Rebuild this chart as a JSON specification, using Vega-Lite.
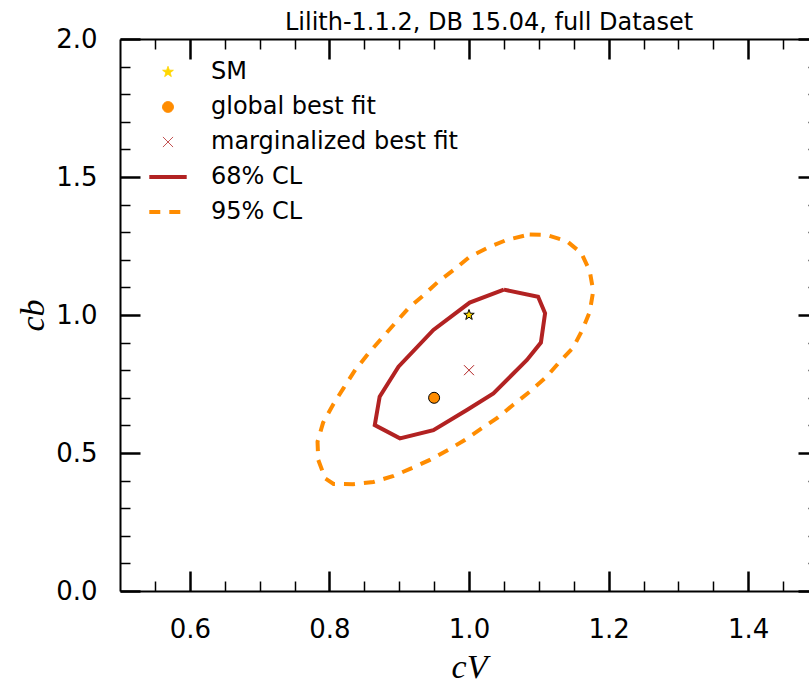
{
  "$schema": "https://vega.github.io/schema/vega-lite/v6.json",
  "autosize": {"type": "none"},
  "padding": {"left": 120, "top": 39, "right": 0, "bottom": 100},
  "width": 698,
  "height": 552,
  "title": {"text": "Lilith-1.1.2, DB 15.04, full Dataset", "font": "DejaVu Sans", "fontSize": 24, "fontWeight": "normal", "color": "black", "anchor": "middle", "dx": 20, "dy": 13, "offset": 4},
  "config": {"view": {"stroke": null}, "axis": {"grid": false, "domainColor": "black", "tickColor": "black", "labelColor": "black", "titleColor": "black"}},
  "datasets": {
    "c95": [
      {"series": "95% CL", "i": 1, "x": 1.087, "y": 1.292},
      {"series": "95% CL", "i": 2, "x": 1.111, "y": 1.29},
      {"series": "95% CL", "i": 3, "x": 1.14, "y": 1.268},
      {"series": "95% CL", "i": 4, "x": 1.161, "y": 1.224},
      {"series": "95% CL", "i": 5, "x": 1.173, "y": 1.159},
      {"series": "95% CL", "i": 6, "x": 1.178, "y": 1.087},
      {"series": "95% CL", "i": 7, "x": 1.173, "y": 1.012},
      {"series": "95% CL", "i": 8, "x": 1.163, "y": 0.949},
      {"series": "95% CL", "i": 9, "x": 1.149, "y": 0.881},
      {"series": "95% CL", "i": 10, "x": 1.13, "y": 0.831},
      {"series": "95% CL", "i": 11, "x": 1.111, "y": 0.776},
      {"series": "95% CL", "i": 12, "x": 1.087, "y": 0.722},
      {"series": "95% CL", "i": 13, "x": 1.063, "y": 0.674},
      {"series": "95% CL", "i": 14, "x": 1.04, "y": 0.626},
      {"series": "95% CL", "i": 15, "x": 1.018, "y": 0.589},
      {"series": "95% CL", "i": 16, "x": 0.994, "y": 0.547},
      {"series": "95% CL", "i": 17, "x": 0.97, "y": 0.511},
      {"series": "95% CL", "i": 18, "x": 0.944, "y": 0.475},
      {"series": "95% CL", "i": 19, "x": 0.918, "y": 0.445},
      {"series": "95% CL", "i": 20, "x": 0.892, "y": 0.417},
      {"series": "95% CL", "i": 21, "x": 0.863, "y": 0.395},
      {"series": "95% CL", "i": 22, "x": 0.834, "y": 0.387},
      {"series": "95% CL", "i": 23, "x": 0.806, "y": 0.388},
      {"series": "95% CL", "i": 24, "x": 0.794, "y": 0.408},
      {"series": "95% CL", "i": 25, "x": 0.784, "y": 0.475},
      {"series": "95% CL", "i": 26, "x": 0.783, "y": 0.541},
      {"series": "95% CL", "i": 27, "x": 0.791, "y": 0.61},
      {"series": "95% CL", "i": 28, "x": 0.805, "y": 0.674},
      {"series": "95% CL", "i": 29, "x": 0.82, "y": 0.734},
      {"series": "95% CL", "i": 30, "x": 0.837, "y": 0.801},
      {"series": "95% CL", "i": 31, "x": 0.856, "y": 0.861},
      {"series": "95% CL", "i": 32, "x": 0.875, "y": 0.916},
      {"series": "95% CL", "i": 33, "x": 0.894, "y": 0.97},
      {"series": "95% CL", "i": 34, "x": 0.913, "y": 1.024},
      {"series": "95% CL", "i": 35, "x": 0.935, "y": 1.072},
      {"series": "95% CL", "i": 36, "x": 0.956, "y": 1.121},
      {"series": "95% CL", "i": 37, "x": 0.978, "y": 1.163},
      {"series": "95% CL", "i": 38, "x": 1.001, "y": 1.211},
      {"series": "95% CL", "i": 39, "x": 1.028, "y": 1.245},
      {"series": "95% CL", "i": 40, "x": 1.054, "y": 1.272},
      {"series": "95% CL", "i": 41, "x": 1.087, "y": 1.292}
    ],
    "c68": [
      {"series": "68% CL", "i": 1, "x": 1.05, "y": 1.092},
      {"series": "68% CL", "i": 2, "x": 1.099, "y": 1.066},
      {"series": "68% CL", "i": 3, "x": 1.109, "y": 1.006},
      {"series": "68% CL", "i": 4, "x": 1.103, "y": 0.9},
      {"series": "68% CL", "i": 5, "x": 1.083, "y": 0.837},
      {"series": "68% CL", "i": 6, "x": 1.035, "y": 0.716},
      {"series": "68% CL", "i": 7, "x": 0.997, "y": 0.656},
      {"series": "68% CL", "i": 8, "x": 0.949, "y": 0.583},
      {"series": "68% CL", "i": 9, "x": 0.901, "y": 0.553},
      {"series": "68% CL", "i": 10, "x": 0.865, "y": 0.601},
      {"series": "68% CL", "i": 11, "x": 0.872, "y": 0.704},
      {"series": "68% CL", "i": 12, "x": 0.899, "y": 0.813},
      {"series": "68% CL", "i": 13, "x": 0.949, "y": 0.946},
      {"series": "68% CL", "i": 14, "x": 1.001, "y": 1.045},
      {"series": "68% CL", "i": 15, "x": 1.05, "y": 1.092}
    ],
    "pts": [
      {"series": "SM", "x": 1.0, "y": 1.0},
      {"series": "global best fit", "x": 0.95, "y": 0.7}
    ],
    "marg": [
      {"series": "marginalized best fit", "x": 1.0, "y": 0.8}
    ]
  },
  "resolve": {"scale": {"x": "shared", "y": "shared", "color": "shared"}, "axis": {"x": "independent", "y": "independent"}},
  "layer": [
    {
      "data": {"name": "c95"},
      "mark": {"type": "line", "strokeWidth": 4, "strokeDash": [11, 9], "strokeCap": "butt"},
      "encoding": {
        "x": {"field": "x", "type": "quantitative", "scale": {"domain": [0.5, 1.5], "nice": false, "zero": false},
          "axis": {"orient": "bottom", "values": [0.6, 0.8, 1.0, 1.2, 1.4], "format": ".1f", "tickSize": -20, "tickWidth": 2.5, "domainWidth": 2, "labelPadding": 45, "labelFont": "DejaVu Sans", "labelFontSize": 26, "labelFlush": false, "labelOverlap": false, "title": "cV", "titleFont": "Liberation Serif", "titleFontStyle": "italic", "titleFontWeight": "normal", "titleFontSize": 34, "titlePadding": 8}},
        "y": {"field": "y", "type": "quantitative", "scale": {"domain": [0, 2], "nice": false, "zero": false},
          "axis": {"orient": "left", "values": [0, 0.5, 1.0, 1.5, 2.0], "format": ".1f", "tickSize": -20, "tickWidth": 2.5, "domainWidth": 2, "labelPadding": 43, "labelFont": "DejaVu Sans", "labelFontSize": 26, "labelFlush": false, "labelOverlap": false, "title": "cb", "titleFont": "Liberation Serif", "titleFontStyle": "italic", "titleFontWeight": "normal", "titleFontSize": 34, "titlePadding": 5}},
        "order": {"field": "i", "type": "quantitative"},
        "color": {"field": "series", "type": "nominal",
          "scale": {"domain": ["SM", "global best fit", "marginalized best fit", "68% CL", "95% CL"], "range": ["#FFD700", "#FF8C00", "#B22222", "#B22222", "#FF8C00"]},
          "legend": {"orient": "none", "legendX": 36, "legendY": 21, "title": null, "padding": 0, "symbolSize": 1400, "symbolStrokeWidth": 1, "labelFont": "DejaVu Sans", "labelFontSize": 24, "labelColor": "black", "labelOffset": 31, "rowPadding": 11, "labelLimit": 400,
            "encode": {"symbols": {"update": {
              "shape": {"signal": "datum.value === 'SM' ? 'M0,-0.3L0.071,-0.097L0.285,-0.093L0.114,0.037L0.176,0.243L0,0.12L-0.176,0.243L-0.114,0.037L-0.285,-0.093L-0.071,-0.097Z' : datum.value === 'global best fit' ? 'M-0.29,0A0.29,0.29,0,1,0,0.29,0A0.29,0.29,0,1,0,-0.29,0Z' : datum.value === 'marginalized best fit' ? 'M-0.27,-0.27L0.27,0.27M0.27,-0.27L-0.27,0.27' : 'stroke'"},
              "fill": {"signal": "datum.value === 'SM' ? '#FFD700' : datum.value === 'global best fit' ? '#FF8C00' : 'transparent'"},
              "stroke": {"signal": "datum.value === 'SM' || datum.value === 'global best fit' ? 'black' : datum.value === '95% CL' ? '#FF8C00' : '#B22222'"},
              "strokeWidth": {"signal": "datum.value === '68% CL' || datum.value === '95% CL' ? 4 : 1"},
              "strokeDash": {"signal": "datum.value === '95% CL' ? [11, 9] : [1, 0]"},
              "opacity": {"value": 1},
              "fillOpacity": {"value": 1},
              "strokeOpacity": {"value": 1}
            }}}}
        }
      }
    },
    {
      "data": {"name": "c68"},
      "mark": {"type": "line", "strokeWidth": 4},
      "encoding": {
        "x": {"field": "x", "type": "quantitative", "scale": {"domain": [0.5, 1.5], "nice": false, "zero": false},
          "axis": {"orient": "bottom", "values": [0.55, 0.65, 0.7, 0.75, 0.85, 0.9, 0.95, 1.05, 1.1, 1.15, 1.25, 1.3, 1.35, 1.45], "tickSize": -10, "tickWidth": 1.5, "domain": false, "labels": false, "title": null}},
        "y": {"field": "y", "type": "quantitative", "scale": {"domain": [0, 2], "nice": false, "zero": false},
          "axis": {"orient": "left", "values": [0.1, 0.2, 0.3, 0.4, 0.6, 0.7, 0.8, 0.9, 1.1, 1.2, 1.3, 1.4, 1.6, 1.7, 1.8, 1.9], "tickSize": -10, "tickWidth": 1.5, "domain": false, "labels": false, "title": null}},
        "order": {"field": "i", "type": "quantitative"},
        "color": {"field": "series", "type": "nominal"}
      }
    },
    {
      "data": {"name": "pts"},
      "mark": {"type": "point", "filled": true, "stroke": "black", "strokeWidth": 1, "size": 121, "opacity": 1},
      "encoding": {
        "x": {"field": "x", "type": "quantitative", "scale": {"domain": [0.5, 1.5], "nice": false, "zero": false},
          "axis": {"orient": "top", "values": [0.6, 0.8, 1.0, 1.2, 1.4], "tickSize": -20, "tickWidth": 2.5, "domainWidth": 2, "labels": false, "title": null}},
        "y": {"field": "y", "type": "quantitative", "scale": {"domain": [0, 2], "nice": false, "zero": false},
          "axis": {"orient": "right", "values": [0, 0.5, 1.0, 1.5, 2.0], "tickSize": -20, "tickWidth": 2.5, "domainWidth": 2, "labels": false, "title": null}},
        "color": {"field": "series", "type": "nominal"},
        "shape": {"field": "series", "type": "nominal", "scale": {"domain": ["SM", "global best fit"], "range": ["M0,-1L0.237,-0.323L0.951,-0.309L0.38,0.123L0.588,0.809L0,0.4L-0.588,0.809L-0.38,0.123L-0.951,-0.309L-0.237,-0.323Z", "circle"]}, "legend": null}
      }
    },
    {
      "data": {"name": "marg"},
      "mark": {"type": "point", "filled": false, "strokeWidth": 1, "size": 100, "opacity": 1, "shape": "M-1,-1L1,1M1,-1L-1,1"},
      "encoding": {
        "x": {"field": "x", "type": "quantitative", "scale": {"domain": [0.5, 1.5], "nice": false, "zero": false},
          "axis": {"orient": "top", "values": [0.55, 0.65, 0.7, 0.75, 0.85, 0.9, 0.95, 1.05, 1.1, 1.15, 1.25, 1.3, 1.35, 1.45], "tickSize": -10, "tickWidth": 1.5, "domain": false, "labels": false, "title": null}},
        "y": {"field": "y", "type": "quantitative", "scale": {"domain": [0, 2], "nice": false, "zero": false},
          "axis": {"orient": "right", "values": [0.1, 0.2, 0.3, 0.4, 0.6, 0.7, 0.8, 0.9, 1.1, 1.2, 1.3, 1.4, 1.6, 1.7, 1.8, 1.9], "tickSize": -10, "tickWidth": 1.5, "domain": false, "labels": false, "title": null}},
        "color": {"field": "series", "type": "nominal"}
      }
    }
  ]
}
